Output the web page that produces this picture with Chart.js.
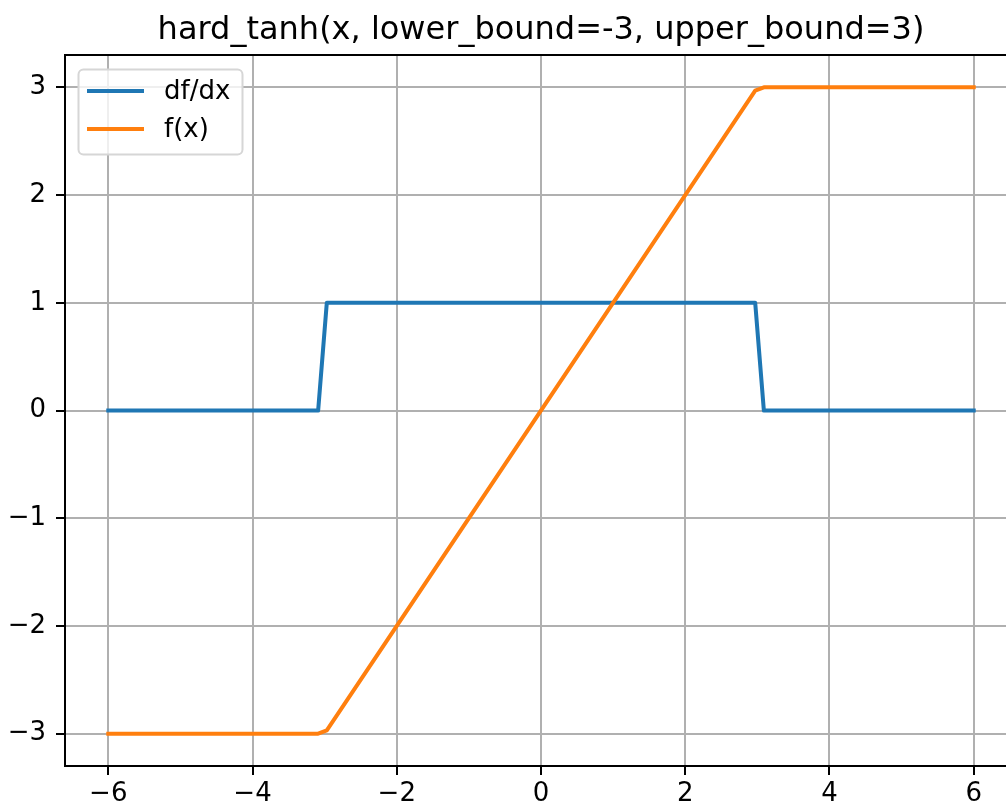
<!DOCTYPE html>
<html>
<head>
<meta charset="utf-8">
<script src="https://cdn.jsdelivr.net/npm/chart.js@4"></script>
<style>
  html, body { margin: 0; padding: 0; background: #ffffff; overflow: hidden; }
  #wrap { width: 1006px; height: 808px; overflow: hidden; }
</style>
</head>
<body>
<div id="wrap"><canvas id="chart" width="1017" height="808"></canvas></div>
<script>
// --- dados ---
const chartTitle = 'hard_tanh(x, lower_bound=-3, upper_bound=3)';
const seriesNames = ['df/dx', 'f(x)'];
const xPoints = [-6, -3.09, -2.97, 2.97, 3.09, 6];
const dfdxValues = [0, 0, 1, 1, 0, 0];
const fxValues = [-3, -3, -2.97, 2.97, 3, 3];
const xTicks = [-6, -4, -2, 0, 2, 4, 6];
const yTicks = [-3, -2, -1, 0, 1, 2, 3];

const blue = '#1f77b4';
const orange = '#ff7f0e';
const fontFamily = "'DejaVu Sans', sans-serif";

Chart.defaults.font.family = fontFamily;
Chart.defaults.color = '#000000';

function toPoints(xs, ys) {
    return xs.map((x, i) => ({ x: x, y: ys[i] }));
}

function minusLabel(v) {
    return String(v).replace('-', '\u2212');
}

// título, moldura de cima e legenda desenhados à mão (estilo matplotlib)
const extrasPlugin = {
    id: 'extras',
    afterDraw(chart) {
        const ctx = chart.ctx;
        const area = chart.chartArea;
        ctx.save();

        // spine de cima e da direita
        ctx.strokeStyle = '#000000';
        ctx.lineWidth = 2;
        ctx.beginPath();
        ctx.moveTo(area.left, area.top);
        ctx.lineTo(area.right, area.top);
        ctx.lineTo(area.right, area.bottom);
        ctx.stroke();

        // título
        ctx.fillStyle = '#000000';
        ctx.font = '32px ' + fontFamily;
        ctx.textAlign = 'center';
        ctx.textBaseline = 'alphabetic';
        ctx.fillText(chartTitle, (area.left + area.right) / 2, 39);

        // legenda
        const bx = 78.5, by = 69.5, bw = 164, bh = 85;
        ctx.beginPath();
        ctx.roundRect(bx, by, bw, bh, 5);
        ctx.fillStyle = 'rgba(255,255,255,0.8)';
        ctx.fill();
        ctx.strokeStyle = '#d6d6d6';
        ctx.lineWidth = 2;
        ctx.stroke();

        const colors = [blue, orange];
        const rows = [91, 129];
        ctx.font = '26px ' + fontFamily;
        ctx.textAlign = 'left';
        ctx.textBaseline = 'middle';
        seriesNames.forEach((name, i) => {
            ctx.strokeStyle = colors[i];
            ctx.lineWidth = 4;
            ctx.lineCap = 'butt';
            ctx.beginPath();
            ctx.moveTo(87, rows[i]);
            ctx.lineTo(144, rows[i]);
            ctx.stroke();
            ctx.fillStyle = '#000000';
            ctx.fillText(name, 164, rows[i] + 1);
        });

        ctx.restore();
    }
};

const ctx = document.getElementById('chart').getContext('2d');

new Chart(ctx, {
    type: 'line',
    data: {
        datasets: [
            {
                label: seriesNames[0],
                data: toPoints(xPoints, dfdxValues),
                borderColor: blue,
                borderWidth: 4,
                borderCapStyle: 'square',
                borderJoinStyle: 'round',
                pointRadius: 0,
                tension: 0,
                fill: false,
                order: 1
            },
            {
                label: seriesNames[1],
                data: toPoints(xPoints, fxValues),
                borderColor: orange,
                borderWidth: 4,
                borderCapStyle: 'square',
                borderJoinStyle: 'round',
                pointRadius: 0,
                tension: 0,
                fill: false,
                order: 0
            }
        ]
    },
    options: {
        responsive: false,
        animation: false,
        devicePixelRatio: 1,
        layout: { padding: { top: 55, left: 0, right: 0, bottom: 0 } },
        plugins: {
            legend: { display: false },
            title: { display: false },
            tooltip: { enabled: false }
        },
        scales: {
            x: {
                type: 'linear',
                min: -6.6,
                max: 6.6,
                afterFit(scale) { scale.height = 42; },
                afterBuildTicks(scale) { scale.ticks = xTicks.map(v => ({ value: v })); },
                ticks: {
                    includeBounds: false,
                    autoSkip: false,
                    maxRotation: 0,
                    padding: 4,
                    font: { size: 26 },
                    color: '#000000',
                    callback: minusLabel
                },
                grid: {
                    color: '#b0b0b0',
                    lineWidth: 2,
                    tickLength: 9,
                    tickColor: '#000000',
                    tickWidth: 2
                },
                border: { display: true, color: '#000000', width: 2 }
            },
            y: {
                type: 'linear',
                min: -3.3,
                max: 3.3,
                afterFit(scale) { scale.width = 65; },
                afterBuildTicks(scale) { scale.ticks = yTicks.map(v => ({ value: v })); },
                ticks: {
                    includeBounds: false,
                    autoSkip: false,
                    padding: 10,
                    font: { size: 26 },
                    color: '#000000',
                    callback: minusLabel
                },
                grid: {
                    color: '#b0b0b0',
                    lineWidth: 2,
                    tickLength: 9,
                    tickColor: '#000000',
                    tickWidth: 2
                },
                border: { display: true, color: '#000000', width: 2 }
            }
        }
    },
    plugins: [extrasPlugin]
});
</script>
</body>
</html>
